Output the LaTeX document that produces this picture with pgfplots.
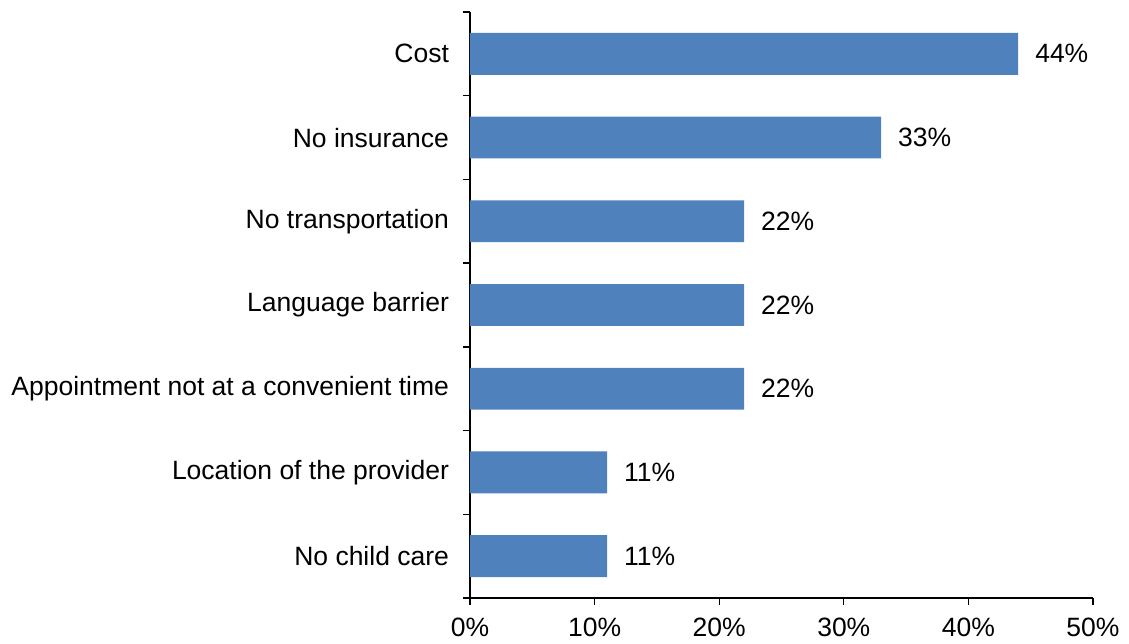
\documentclass[border=0pt]{standalone}
\usepackage{pgfplots}
\pgfplotsset{compat=1.18}
\usepackage{fontspec}
\setmainfont{Liberation Sans}
\definecolor{barblue}{HTML}{4F81BD}
\begin{document}
\begin{tikzpicture}
\fontsize{26.5}{31}\selectfont
\useasboundingbox (-470pt,-46pt) rectangle (659pt,598pt);
\begin{axis}[
  at={(0,0)}, anchor=south west,
  scale only axis,
  width=623pt, height=586pt,
  xbar,
  bar width=0.5,
  xmin=0, xmax=50,
  ymin=-0.5, ymax=6.5,
  axis lines=left,
  axis line style={-, black, line width=1.3pt},
  xtick={0,10,20,30,40,50},
  xticklabels={0\%,10\%,20\%,30\%,40\%,50\%},
  ytick={0,1,2,3,4,5,6},
  yticklabels={No child care,Location of the provider,Appointment not at a convenient time,Language barrier,No transportation,No insurance,Cost},
  minor ytick={-0.5,0.5,1.5,2.5,3.5,4.5,5.5,6.5},
  tick align=outside,
  major tick length=7pt,
  minor tick length=7pt,
  major y tick style={draw=none},
  minor y tick style={draw=black, line width=1.3pt},
  major x tick style={black, line width=1.3pt},
  /pgf/number format/assume math mode=true,
  yticklabel style={font=\fontsize{26.5}{31}\selectfont, align=right, xshift=-5pt},
  xticklabel style={font=\fontsize{26.5}{31}\selectfont, yshift=-4pt},
  nodes near coords={\pgfmathprintnumber{\pgfplotspointmeta}\%},
  nodes near coords style={font=\fontsize{26.5}{31}\selectfont, black, anchor=west, xshift=8pt},
  point meta=explicit,
  clip=false,
]
\addplot[fill=barblue, draw=none] coordinates {
  (11,0) [11]
  (11,1) [11]
  (22,2) [22]
  (22,3) [22]
  (22,4) [22]
  (33,5) [33]
  (44,6) [44]
};
\end{axis}
\end{tikzpicture}
\end{document}
